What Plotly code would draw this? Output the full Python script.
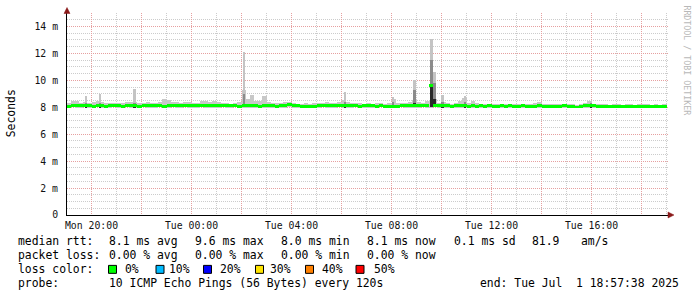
import plotly.graph_objects as go
import pandas as pd

# ---------------- data ----------------
bin_start_time = "2025-06-30 19:00"   # 10-minute bins
n_bins = 144

median_rtt = [  # ms
    8.08, 8.10, 8.12, 8.10, 8.14, 8.10, 8.08, 8.12, 8.10, 8.06, 8.10, 8.12,
    8.10, 8.08, 8.12, 8.14, 8.10, 8.08, 8.12, 8.10, 8.14, 8.12, 8.10, 8.08,
    8.12, 8.16, 8.12, 8.10, 8.14, 8.16, 8.12, 8.10, 8.14, 8.16, 8.12, 8.10,
    8.12, 8.10, 8.14, 8.10, 8.12, 8.08, 8.12, 8.14, 8.10, 8.12, 8.08, 8.12,
    8.10, 8.12, 8.08, 8.10, 8.12, 8.18, 8.12, 8.10, 8.06, 8.04, 8.06, 8.08,
    8.10, 8.12, 8.10, 8.12, 8.10, 8.12, 8.14, 8.10, 8.12, 8.10, 8.08, 8.10,
    8.12, 8.10, 8.08, 8.10, 8.06, 8.08, 8.06, 8.08, 8.10, 8.12, 8.10, 8.10,
    8.12, 8.10, 8.12, 9.62, 8.14, 8.10, 8.12, 8.10, 8.08, 8.10, 8.12, 8.10,
    8.08, 8.10, 8.08, 8.10, 8.08, 8.10, 8.06, 8.08, 8.10, 8.08, 8.10, 8.06,
    8.08, 8.10, 8.08, 8.06, 8.08, 8.10, 8.08, 8.04, 8.08, 8.06, 8.08, 8.10,
    8.06, 8.08, 8.02, 8.08, 8.10, 8.12, 8.10, 8.08, 8.06, 8.08, 8.04, 8.08,
    8.06, 8.08, 8.06, 8.04, 8.08, 8.06, 8.08, 8.06, 8.08, 8.06, 8.08, 8.06,
]

smoke_high = [  # ms, slowest ping per bin
    8.30, 8.48, 8.50, 8.35, 8.40, 8.32, 8.38, 8.45, 8.40, 8.30, 8.35, 8.32,
    8.30, 8.34, 8.40, 8.36, 8.42, 8.30, 8.32, 8.38, 8.34, 8.30, 8.36, 8.58,
    8.55, 8.40, 8.38, 8.32, 8.36, 8.40, 8.34, 8.30, 8.45, 8.48, 8.42, 8.45,
    8.38, 8.30, 8.34, 8.28, 8.32, 8.36, 9.25, 8.60, 8.88, 8.50, 8.45, 8.80,
    8.40, 8.35, 8.30, 8.34, 8.38, 8.42, 8.30, 8.28, 8.25, 8.30, 8.28, 8.32,
    8.35, 8.30, 8.38, 8.34, 8.32, 8.36, 8.55, 8.40, 8.34, 8.30, 8.32, 8.28,
    8.30, 8.28, 8.34, 8.30, 8.26, 8.30, 8.60, 8.34, 8.30, 8.32, 8.40, 8.55,
    8.38, 8.34, 8.45, 8.50, 8.60, 8.32, 8.40, 8.30, 8.28, 8.32, 8.50, 8.70,
    8.35, 8.45, 8.30, 8.26, 8.28, 8.25, 8.24, 8.28, 8.25, 8.22, 8.24, 8.26,
    8.22, 8.24, 8.26, 8.22, 8.30, 8.38, 8.24, 8.22, 8.26, 8.22, 8.24, 8.22,
    8.22, 8.24, 8.20, 8.26, 8.30, 8.45, 8.26, 8.22, 8.24, 8.22, 8.20, 8.24,
    8.22, 8.20, 8.24, 8.22, 8.20, 8.22, 8.24, 8.22, 8.20, 8.22, 8.20, 8.22,
]

smoke_low = [  # ms, fastest ping per bin
    7.98, 8.00, 7.98, 7.96, 8.00, 7.98, 7.96, 8.00, 7.98, 7.96, 7.98, 8.00,
    7.98, 7.96, 8.00, 7.98, 7.96, 7.98, 8.00, 7.98, 7.96, 7.98, 8.00, 7.96,
    7.98, 8.00, 7.98, 7.96, 8.00, 7.98, 7.96, 7.98, 8.00, 7.98, 7.96, 7.98,
    7.98, 8.00, 7.96, 7.98, 8.00, 7.96, 7.94, 7.98, 7.96, 7.98, 8.00, 7.98,
    7.96, 7.98, 8.00, 7.98, 7.96, 8.00, 7.98, 7.96, 7.94, 7.96, 7.98, 7.96,
    7.98, 8.00, 7.98, 7.96, 7.98, 8.00, 7.98, 7.96, 7.98, 8.00, 7.96, 7.98,
    7.98, 7.96, 7.98, 8.00, 7.96, 7.98, 7.96, 7.98, 8.00, 7.98, 7.96, 7.98,
    7.98, 8.00, 7.98, 7.96, 8.00, 7.98, 7.96, 7.98, 8.00, 7.98, 7.96, 7.98,
    7.96, 7.98, 8.00, 7.98, 7.96, 7.98, 7.96, 7.98, 7.98, 7.96, 7.98, 7.96,
    7.98, 7.96, 7.98, 7.96, 7.98, 7.98, 7.96, 7.94, 7.98, 7.96, 7.98, 7.96,
    7.96, 7.98, 7.92, 7.98, 7.96, 7.98, 7.96, 7.98, 7.94, 7.98, 7.94, 7.96,
    7.96, 7.98, 7.94, 7.96, 7.98, 7.96, 7.98, 7.96, 7.98, 7.96, 7.98, 7.96,
]

# short latency spikes (outer / middle / dark smoke tops, ms)
spike_time = ["2025-06-30 19:47", "2025-06-30 20:20", "2025-06-30 21:43",
              "2025-07-01 02:06", "2025-07-01 06:08", "2025-07-01 08:04",
              "2025-07-01 08:55", "2025-07-01 09:36", "2025-07-01 09:43",
              "2025-07-01 10:02", "2025-07-01 10:56", "2025-07-01 15:59"]
spike_outer = [8.80, 8.96, 9.33, 12.10, 9.10, 8.75, 10.05, 13.10, 10.60, 8.90, 8.80, 8.50]
spike_middle = [8.30, 8.30, 8.35, 9.00, 8.40, 8.40, 9.30, 11.50, 9.80, 8.40, 8.40, 8.30]
spike_dark = [8.10, 8.10, 8.10, 8.20, 8.10, 8.20, 8.30, 9.60, 8.60, 8.10, 8.10, 8.10]
spike_base = 8.0

x_tick_times = ["2025-06-30 20:00", "2025-06-30 22:00", "2025-07-01 00:00",
                "2025-07-01 02:00", "2025-07-01 04:00", "2025-07-01 06:00",
                "2025-07-01 08:00", "2025-07-01 10:00", "2025-07-01 12:00",
                "2025-07-01 14:00", "2025-07-01 16:00", "2025-07-01 18:00"]
x_tick_text = ["Mon 20:00", "", "Tue 00:00", "", "Tue 04:00", "",
               "Tue 08:00", "", "Tue 12:00", "", "Tue 16:00", ""]
y_tick_vals = [0, 2, 4, 6, 8, 10, 12, 14]
y_tick_text = ["0", "2 m", "4 m", "6 m", "8 m", "10 m", "12 m", "14 m"]

loss_colors = ["#00ff00", "#00bbff", "#0000ff", "#ffe400", "#ff8000", "#ff0000"]
loss_labels = ["0%", "10%", "20%", "30%", "40%", "50%"]

legend_rows = [
    [("median rtt:", 16), ("8.1 ms avg", 107.3), ("9.6 ms max", 193.3),
     ("8.0 ms min", 279.3), ("8.1 ms now", 365), ("0.1 ms sd", 451.7),
     ("81.9", 530), ("am/s", 579.3)],
    [("packet loss:", 16), ("0.00 % avg", 107.3), ("0.00 % max", 193.3),
     ("0.00 % min", 279.3), ("0.00 % now", 365)],
    [("loss color:", 16)],
    [("probe:", 16), ("10 ICMP Echo Pings (56 Bytes) every 120s", 107.3),
     ("end: Tue Jul  1 18:57:38 2025", 478.3)],
]

# ---------------- layout geometry ----------------
W, H = 697, 297
L, R, T, B = 67, 668, 12.5, 215
PW, PH = R - L, B - T


def px(x):
    return (x - L) / PW


def py(y):
    return (B - y) / PH


MONO = "DejaVu Sans Mono"
bins = pd.date_range(bin_start_time, periods=n_bins, freq="10min") + pd.Timedelta(minutes=5)
BW = 10 * 60 * 1000

fig = go.Figure()
fig.add_trace(go.Bar(x=bins, base=smoke_low, y=[h - l for h, l in zip(smoke_high, smoke_low)],
                     width=BW, marker=dict(color="#c8c8c8", line=dict(width=0))))
SW = 6 * 60 * 1000
for tops, col in [(spike_outer, "#c4c4c4"), (spike_middle, "#8c8c8c"), (spike_dark, "#2a2a2a")]:
    fig.add_trace(go.Bar(x=spike_time, base=[spike_base] * len(tops),
                         y=[t - spike_base for t in tops], width=SW,
                         marker=dict(color=col, line=dict(width=0))))
fig.add_trace(go.Bar(x=bins, base=[m - 0.11 for m in median_rtt], y=[0.22] * n_bins,
                     width=BW, marker=dict(color="#00ff00", line=dict(width=0))))

grid_minor = "#cccccc"
grid_major = "#e6a0a0"
dash = "1px,1px"

fig.update_layout(
    width=W, height=H, margin=dict(l=L, r=W - R, t=T, b=H - B),
    paper_bgcolor="white", plot_bgcolor="white", showlegend=False,
    barmode="overlay", bargap=0,
    xaxis=dict(type="date", range=["2025-06-30 19:01:12", "2025-07-01 19:03:36"],
               tickmode="array", tickvals=x_tick_times, ticktext=x_tick_text,
               showgrid=True, gridcolor=grid_major, griddash=dash, gridwidth=1,
               ticks="", ticklabelstandoff=1,
               tickfont=dict(family=MONO, size=9.8, color="#111"),
               showline=True, linecolor="#000", linewidth=1, zeroline=False,
               minor=dict(dtick=3600000, tick0="2025-06-30 00:00", showgrid=True,
                          gridcolor=grid_minor, griddash=dash, gridwidth=1, ticks="")),
    yaxis=dict(range=[0, 15], tickmode="array", tickvals=y_tick_vals, ticktext=y_tick_text,
               showgrid=True, gridcolor=grid_major, griddash=dash, gridwidth=1,
               ticks="", ticklabelstandoff=6,
               tickfont=dict(family=MONO, size=9.8, color="#111"),
               showline=True, linecolor="#000", linewidth=1, zeroline=False,
               minor=dict(dtick=0.5, tick0=0, showgrid=True, gridcolor=grid_minor,
                          griddash=dash, gridwidth=1, ticks="")),
)

shapes = [
    dict(type="line", xref="paper", yref="paper", x0=0, x1=0, y0=1, y1=py(9),
         line=dict(color="#000", width=1)),
    dict(type="line", xref="paper", yref="paper", x0=1, x1=px(671), y0=0, y1=0,
         line=dict(color="#000", width=1)),
    dict(type="path", xref="paper", yref="paper",
         path=f"M {px(64)} {py(13)} L {px(70)} {py(13)} L {px(67)} {py(7)} Z",
         fillcolor="#8b1a1a", line=dict(color="#8b1a1a", width=0.5)),
    dict(type="path", xref="paper", yref="paper",
         path=f"M {px(668)} {py(212)} L {px(668)} {py(218)} L {px(674)} {py(215)} Z",
         fillcolor="#8b1a1a", line=dict(color="#8b1a1a", width=0.5)),
]

annotations = []
row_y = [241.5, 255.5, 269.5, 283.5]
for row, yy in zip(legend_rows, row_y):
    for text, xx in row:
        annotations.append(dict(text=text, x=px(xx), y=py(yy), xref="paper", yref="paper",
                                xanchor="left", yanchor="middle", showarrow=False,
                                font=dict(family=MONO, size=11.4, color="#000")))

box_x = [108.5, 156, 203.5, 255.5, 305.5, 356]
label_x = [123, 166.5, 218, 268, 320, 371.5]
for col, lab, bx, lx in zip(loss_colors, loss_labels, box_x, label_x):
    shapes.append(dict(type="rect", xref="paper", yref="paper",
                       x0=px(bx), x1=px(bx + 8), y0=py(273.5), y1=py(265.5),
                       fillcolor=col, line=dict(color="#000", width=1)))
    annotations.append(dict(text=lab, x=px(lx), y=py(269.5), xref="paper", yref="paper",
                            xanchor="left", yanchor="middle", showarrow=False,
                            font=dict(family=MONO, size=11.4, color="#000")))

annotations.append(dict(text="Seconds", x=px(11), y=py(113), xref="paper", yref="paper",
                        textangle=-90, showarrow=False, xanchor="center", yanchor="middle",
                        font=dict(family=MONO, size=11.4, color="#000")))
annotations.append(dict(text="RRDTOOL / TOBI OETIKER", x=px(687), y=py(60), xref="paper",
                        yref="paper", textangle=90, showarrow=False, xanchor="center",
                        yanchor="middle", font=dict(family=MONO, size=8.3, color="#b8b8b8")))

fig.update_layout(shapes=shapes, annotations=annotations)
fig.write_html("out.html")
